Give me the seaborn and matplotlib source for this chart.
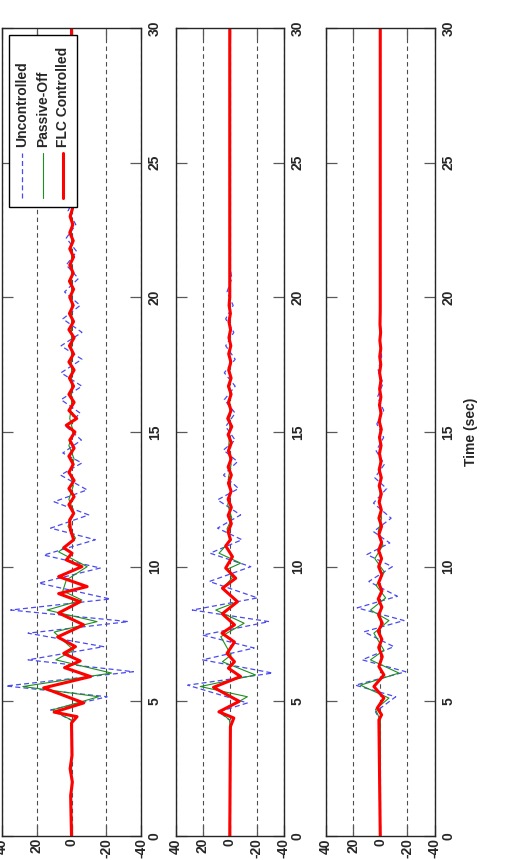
import numpy as np
import pandas as pd
import matplotlib
matplotlib.use("Agg")
import matplotlib.pyplot as plt
from matplotlib.patches import Rectangle
import seaborn as sns

sns.set_style("ticks")
plt.rcParams['font.family'] = ['Liberation Sans', 'DejaVu Sans']
plt.rcParams['font.weight'] = 'bold'
plt.rcParams['font.size'] = 10

series_names = ["Uncontrolled", "Passive-Off", "FLC Controlled"]
time_ticks = [0, 5, 10, 15, 20, 25, 30]
disp_ticks = [40, 20, 0, -20, -40]

# ---- panel 1 (top subplot) ----
unc1_t = [0, 4.3, 4.68, 5.17, 5.57, 6.1, 6.54, 7.03, 7.53, 7.96, 8.39, 8.8, 9.39, 9.95, 10.43, 11.0,
          11.43, 11.92, 12.41, 12.85, 13.4, 13.85, 14.22, 14.7, 15.2, 15.7, 16.2, 16.7, 17.2, 17.7,
          18.2, 18.7, 19.2, 19.7, 20.2, 20.7, 21.2, 21.7, 22.2, 22.7, 23.2, 23.7, 24.2, 30]
unc1_v = [0, 0, 12, -20.5, 37.7, -35.6, 25, -18.5, 25, -32.8, 35, -22.3, 18.8, -16.6, 16, -13.7,
          12, -9.9, 10, -9, 6.3, -6, 5, -5.7, 3, -5, 6, -6, 6, -6, 6, -6, 5, -5, 4, -4, 3, -3,
          3, -2.5, 2, -1.5, 0, 0]
pas1_t = [0, 4.3, 4.68, 5.17, 5.55, 6.05, 6.54, 6.9, 7.57, 7.96, 8.39, 8.76, 9.1, 9.5, 10.0, 10.55,
          11.06, 11.5, 12.0, 12.5, 13.0, 13.5, 14.0, 14.5, 15.0, 15.5, 16.0, 30]
pas1_v = [0, 0, 11, -15.6, 28, -23, 9, -1.3, 10, -14.7, 14, -6, 5, 3, -9, 7.4,
          -2.3, 2, -1.5, 1.5, -1, 1, -1.5, 1.5, -1, 1, 0, 0]
flc1_t = [0, 1.5, 2.0, 2.5, 3.0, 4.2, 4.43, 4.6, 4.94, 5.5, 5.92, 6.25, 6.5, 6.78, 7.03, 7.39, 7.84,
          8.28, 8.7, 9.0, 9.26, 9.63, 10.0, 10.25, 10.5, 10.7, 11.0, 11.36, 11.73, 11.98, 12.3, 12.6,
          12.9, 13.2, 13.5, 13.8, 14.1, 14.4, 14.7, 15.0, 15.25, 15.5, 15.8, 16.1, 16.4, 16.7, 17.0,
          17.3, 17.6, 17.9, 18.2, 18.5, 18.8, 19.1, 19.4, 19.7, 20.0, 20.3, 20.6, 20.9, 21.2, 21.5,
          21.8, 22.1, 22.4, 22.7, 23.0, 23.3, 23.6, 24.0, 30]
flc1_v = [0, 0.5, -0.5, 0.8, -0.3, 0, -3.2, 10, -7, 16, -11, 4, -5, 4.5, -2.3, 8, -7,
          7.4, -5, 7.4, -9, 7.4, -6, 3, -0.3, 4.5, -1.3, 0.6, 1.1, -1.3, 1.5, -1.5,
          1.5, -1.5, 1.5, -1, 1.5, -1.5, 1, -2, 3, -3, 1.5, -1.5, 1.5, -1.2, 1.2,
          -1.5, 1.5, -1.2, 1.2, -1.5, 1.5, -1.2, 1.2, -1, 1, -1.2, 1.2, -1, 1, -1.2,
          1, -1, 1, -0.8, 0.8, -0.6, 0.5, 0, 0]

# ---- panel 2 (middle subplot) ----
unc2_t = [0, 4.3, 4.61, 4.94, 5.6, 6.05, 6.54, 6.98, 7.46, 7.96, 8.39, 8.84, 9.45, 10.0, 10.5, 11.0,
          11.43, 11.92, 12.48, 12.9, 13.4, 13.9, 14.33, 14.7, 15.2, 15.7, 16.2, 16.7, 17.2, 17.7,
          18.2, 18.7, 19.2, 19.7, 20.2, 20.7, 21.2, 30]
unc2_v = [0, 0, 8, -13, 31, -31.6, 20, -18, 20, -29, 27.6, -20.5, 15, -15.5, 14.5, -9,
          9, -8, 9, -6.5, 4.6, -5.7, 4.6, -4, 3, -4, 4, -4, 4, -4, 3, -3, 3, -2.5, 2, -1.5, 0, 0]
pas2_t = [0, 4.3, 4.6, 5.17, 5.55, 5.98, 6.47, 6.72, 7.4, 7.9, 8.39, 8.7, 9.2, 9.6, 9.9, 10.13,
          10.5, 11.0, 11.4, 11.8, 12.3, 12.8, 13.3, 13.8, 14.3, 15.0, 30]
pas2_v = [0, 0, 7, -13, 21.7, -19, 5.4, -1, 6.6, -10.6, 10.3, -5.7, 5, -2, 2, -8,
          7.9, -1, 2, -1.5, 1.5, -1, 1, -1, 1, 0, 0]
flc2_t = [0, 4.06, 4.38, 4.61, 5.0, 5.52, 5.92, 6.23, 6.47, 6.78, 7.2, 7.53, 7.84, 8.25, 8.7, 9.2,
          9.57, 9.95, 10.37, 10.77, 11.0, 11.3, 11.6, 11.9, 12.2, 12.5, 12.8, 13.1, 13.4, 13.7,
          14.0, 14.3, 14.6, 14.9, 15.2, 15.5, 15.8, 16.1, 16.4, 16.7, 17.0, 17.3, 17.6, 17.9,
          18.2, 18.5, 18.8, 19.1, 19.4, 19.7, 20.0, 30]
flc2_v = [0, -0.5, -3, 8, -7, 12, -8, 1, -3.5, 2, -3.5, 5.7, -3.5, 5.5, -5.7, 5.4,
          -4.4, 3, -2, 3, -0.5, 1.2, -1.2, 1.2, -1.2, 1.2, -1, 1, -1.2, 1.2,
          -1, 1, -1.2, 1.2, -1.5, 1.5, -1, 1, -1, 1, -1, 0.8, -0.8, 0.8,
          -0.8, 0.6, -0.6, 0.6, -0.5, 0.5, 0, 0]

# ---- panel 3 (bottom subplot) ----
unc3_t = [0, 4.3, 4.61, 5.17, 5.6, 6.1, 6.54, 7.03, 7.58, 8.0, 8.47, 8.9, 9.45, 10.0, 10.45, 10.88,
          11.3, 11.8, 12.36, 12.9, 13.3, 13.8, 14.3, 14.8, 15.3, 15.8, 16.3, 16.8, 17.3, 17.8, 18.3, 30]
unc3_v = [0, 0, 3.5, -11.4, 18.3, -18.8, 13.3, -10, 12, -17.5, 17, -12.6, 8.4, -8.9, 9.8, -7,
          5, -8, 5, -4.7, 4, -3, 3, -2.5, 2.5, -2.5, 2, -2, 1.5, -1, 0, 0]
pas3_t = [0, 4.3, 4.7, 5.12, 5.6, 6.05, 6.54, 6.9, 7.53, 8.0, 8.39, 8.84, 9.3, 9.8, 10.3, 10.8,
          11.3, 11.8, 12.3, 13.0, 30]
pas3_v = [0, 0, 3.5, -6.4, 14.6, -13.8, 7.2, -2.7, 4.7, -6.4, 7.2, -4, 3, -3, 4, -2,
          1.5, -1, 0.5, 0, 0]
flc3_t = [0, 4.31, 4.5, 4.75, 5.12, 5.55, 5.98, 6.29, 6.66, 7.0, 7.3, 7.6, 7.9, 8.2, 8.5, 8.8,
          9.1, 9.4, 9.7, 10.0, 10.3, 10.6, 10.9, 11.2, 11.5, 11.8, 12.1, 12.4, 12.7, 13.0, 13.3,
          13.6, 13.9, 14.2, 14.5, 14.8, 15.1, 15.4, 15.7, 16.0, 16.3, 16.6, 16.9, 17.2, 17.5,
          17.8, 18.1, 18.4, 18.7, 19.0, 19.5, 30]
flc3_v = [0, 1, -1, 2.2, -2.7, 4.7, -2.7, 1, -1.5, 1.2, -1.2, 1.5, -1.5, 1.2, -1.2, 1.5,
          -1.2, 1.2, -1.2, 1.2, -1, 1.2, -1, 1, -1, 1, -0.8, 0.8, -0.8, 0.8, -0.8,
          0.8, -0.6, 0.6, -0.6, 0.6, -0.8, 0.8, -0.6, 0.6, -0.5, 0.5, -0.5, 0.5, -0.4,
          0.4, -0.4, 0.3, -0.3, 0.2, 0, 0]

panels = [
    [(unc1_t, unc1_v), (pas1_t, pas1_v), (flc1_t, flc1_v)],
    [(unc2_t, unc2_v), (pas2_t, pas2_v), (flc2_t, flc2_v)],
    [(unc3_t, unc3_v), (pas3_t, pas3_v), (flc3_t, flc3_v)],
]

line_styles = [
    dict(color="#4a4af0", lw=0.9, linestyle=(0, (4, 2.5))),
    dict(color="#1f8f1f", lw=0.8, linestyle="-"),
    dict(color="#ff0000", lw=2.2, linestyle="-"),
]

fig = plt.figure(figsize=(5.25, 8.6), dpi=100)
# the original landscape figure is shown turned a quarter turn: time runs upward
boxes = [[2/525, 24/860, 139/525, 808/860],
         [175.5/525, 24/860, 108.5/525, 808/860],
         [326/525, 24/860, 108.5/525, 808/860]]

for i, (box, series) in enumerate(zip(boxes, panels)):
    ax = fig.add_axes(box)
    for (t, v), name, st in zip(series, series_names, line_styles):
        df = pd.DataFrame({"time": t, "value": v})
        sns.lineplot(data=df, x="value", y="time", orient="y", sort=False, estimator=None,
                     ax=ax, label=name, legend=False, **st)
    ax.set_xlim(40, -40)
    ax.set_ylim(0, 30)
    ax.set_xticks(disp_ticks)
    ax.set_yticks(time_ticks)
    ax.set_xticklabels([str(d) for d in disp_ticks], rotation=90, fontweight="bold")
    ax.set_yticklabels([str(s) for s in time_ticks], rotation=90, fontweight="bold", va="center")
    ax.tick_params(axis="both", direction="in", length=8, width=0.9, color="0.35",
                   top=True, bottom=True, left=True, right=True,
                   labelleft=False, labelright=True, labelbottom=True, labelsize=10)
    ax.tick_params(axis="x", pad=1.5)
    ax.tick_params(axis="y", pad=5)
    ax.xaxis.grid(True, linestyle=(0, (4, 3)), color="0.3", lw=0.8)
    ax.yaxis.grid(False)
    ax.set_axisbelow(True)
    ax.set_xlabel("")
    ax.set_ylabel("")
    for sp in ax.spines.values():
        sp.set_visible(True)
        sp.set_color("0.15")
        sp.set_linewidth(1.0)
    if i == 2:
        ax.yaxis.set_label_position("right")
        ax.set_ylabel("Time (sec)", rotation=90, fontweight="bold", fontsize=10, labelpad=6)
    if i == 0:
        # legend box, drawn turned like the rest of the figure
        ax.add_patch(Rectangle((0.05, 0.778), 0.49, 0.213, transform=ax.transAxes,
                               facecolor="white", edgecolor="black", lw=1.0, zorder=5))
        for xf, name, st in zip([0.145, 0.295, 0.44], series_names, line_styles):
            ax.plot([xf, xf], [0.79, 0.845], transform=ax.transAxes, zorder=6, **st)
            ax.text(xf, 0.853, name, transform=ax.transAxes, rotation=90, ha="center",
                    va="bottom", fontsize=10, fontweight="bold", zorder=6)

fig.savefig("out.png", dpi=100)
